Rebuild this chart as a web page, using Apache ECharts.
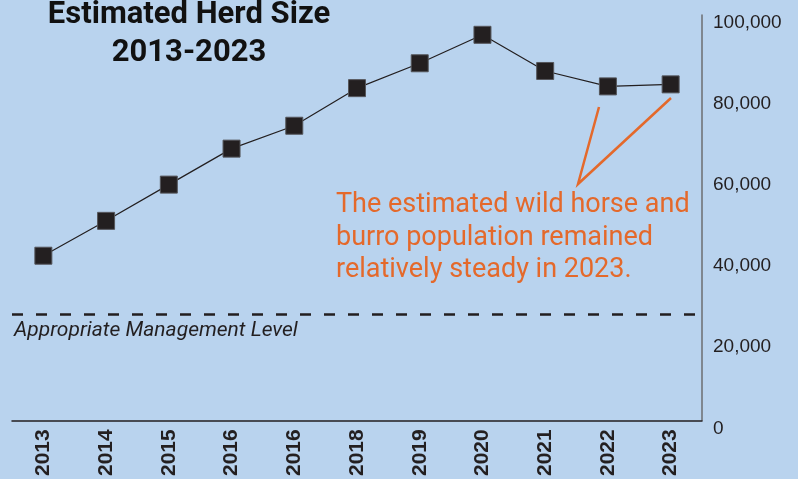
<!DOCTYPE html>
<html>
<head>
<meta charset="utf-8">
<script src="https://cdn.jsdelivr.net/npm/echarts@6/dist/echarts.min.js"></script>
<style>
html,body{margin:0;padding:0;background:#b9d3ee;}
#chart{width:798px;height:479px;}
</style>
</head>
<body>
<div id="chart"></div>
<script>
const categories = ['2013','2014','2015','2016','2016','2018','2019','2020','2021','2022','2023'];
const herdSize = [40605, 49209, 58150, 67027, 72674, 81951, 88090, 95114, 86189, 82384, 82883];
const amlValue = 26200;
const yTicks = [0, 20000, 40000, 60000, 80000, 100000];
const titleLines = ['Estimated Herd Size', '2013-2023'];
const amlLabel = 'Appropriate Management Level';
const noteLines = ['The estimated wild horse and', 'burro population remained', 'relatively steady in 2023.'];

const chart = echarts.init(document.getElementById('chart'), null, {renderer:'canvas'});
const dark = '#231f20';
const orange = '#e4692b';
chart.setOption({
  backgroundColor: '#b9d3ee',
  animation: false,
  grid: {left: 12, right: 96, top: 15, bottom: 58, containLabel: false},
  xAxis: {
    type: 'category',
    data: categories,
    boundaryGap: true,
    axisLine: {lineStyle: {color: dark, width: 1.5}},
    axisTick: {inside: true, length: 10, lineStyle: {color: '#6d6e71', width: 1.5}},
    axisLabel: {rotate: 90, interval: 0, margin: 9, color: dark, fontWeight: 'bold', fontSize: 21, fontFamily: 'Liberation Sans'},
    splitLine: {show: false}
  },
  yAxis: {
    type: 'value',
    position: 'right',
    min: yTicks[0],
    max: yTicks[yTicks.length - 1],
    interval: yTicks[1] - yTicks[0],
    axisLine: {show: true, lineStyle: {color: '#6d6e71', width: 1.5}},
    axisTick: {show: false},
    splitLine: {show: false},
    axisLabel: {margin: 11, color: dark, fontSize: 19, fontFamily: 'Liberation Sans', verticalAlign: 'top', lineHeight: 16}
  },
  series: [{
    type: 'line',
    data: herdSize,
    symbol: 'rect',
    symbolSize: 17,
    itemStyle: {color: dark, borderColor: '#55565b', borderWidth: 1},
    lineStyle: {color: dark, width: 1.2},
    z: 3,
    markLine: {
      silent: true,
      symbol: 'none',
      label: {show: false},
      lineStyle: {color: dark, width: 2.5, type: [11, 13]},
      data: [{yAxis: amlValue}]
    }
  }],
  graphic: [
    {type: 'text', x: 189, y: 15, style: {text: titleLines[0], font: 'bold 31px Roboto', fill: '#111', textAlign: 'center', textVerticalAlign: 'middle'}},
    {type: 'text', x: 189, y: 53, style: {text: titleLines[1], font: 'bold 31px Roboto', fill: '#111', textAlign: 'center', textVerticalAlign: 'middle'}},
    {type: 'text', x: 14, y: 331, style: {text: amlLabel, font: 'italic 21px Roboto', fill: dark, textAlign: 'left', textVerticalAlign: 'middle'}},
    {type: 'polyline', shape: {points: [[599,107],[578,184],[671,98]]}, style: {stroke: orange, lineWidth: 2.5, fill: null}},
    {type: 'text', x: 336, y: 205, style: {text: noteLines[0], font: '27px Roboto', fill: orange, textAlign: 'left', textVerticalAlign: 'middle'}},
    {type: 'text', x: 336, y: 238, style: {text: noteLines[1], font: '27px Roboto', fill: orange, textAlign: 'left', textVerticalAlign: 'middle'}},
    {type: 'text', x: 336, y: 270, style: {text: noteLines[2], font: '27px Roboto', fill: orange, textAlign: 'left', textVerticalAlign: 'middle'}}
  ]
});
</script>
</body>
</html>
